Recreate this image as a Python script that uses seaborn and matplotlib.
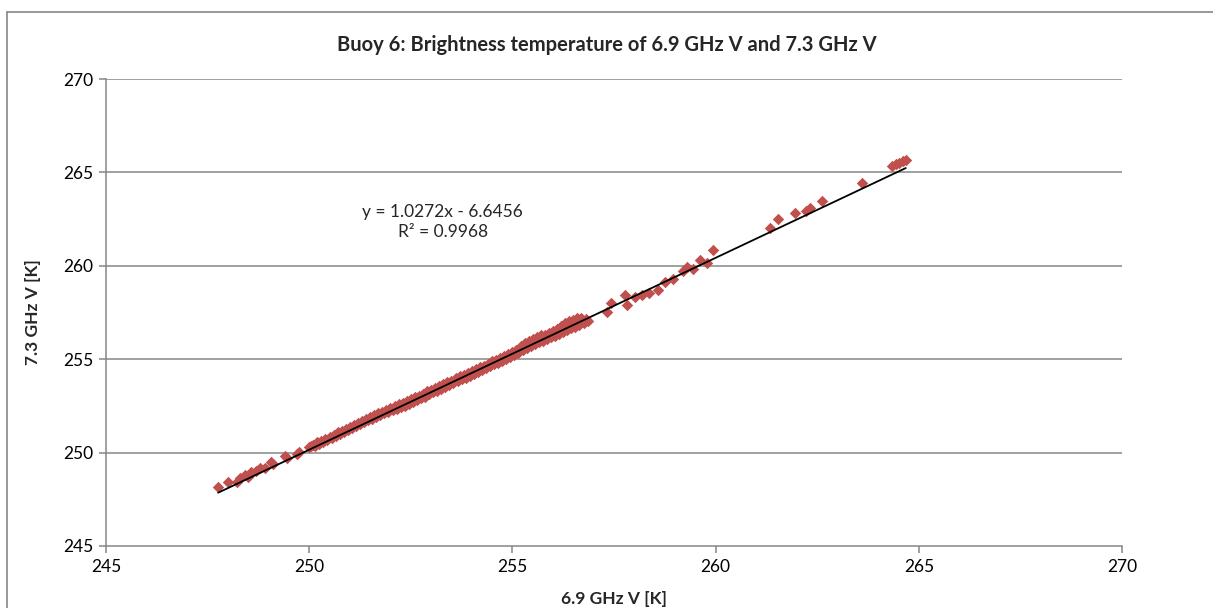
import matplotlib
matplotlib.use("Agg")
import matplotlib.pyplot as plt
import seaborn as sns
import pandas as pd
from matplotlib.lines import Line2D

# ---- data ----
x_low = [247.76, 248.00, 248.22, 248.30, 248.42, 248.50, 248.58, 248.70, 248.80, 248.92,
         249.05, 249.12, 249.40, 249.45, 249.75, 249.70]
y_low = [248.15, 248.45, 248.40, 248.62, 248.78, 248.70, 248.95, 249.02, 249.20, 249.15,
         249.48, 249.38, 249.82, 249.72, 250.05, 249.95]

x_band = [250.00, 250.05, 250.10, 250.15, 250.20, 250.25, 250.30, 250.35, 250.40, 250.45,
          250.50, 250.55, 250.60, 250.65, 250.70, 250.75, 250.80, 250.85, 250.90, 250.95,
          251.00, 251.05, 251.10, 251.15, 251.20, 251.25, 251.30, 251.35, 251.40, 251.45,
          251.50, 251.55, 251.60, 251.65, 251.70, 251.75, 251.80, 251.85, 251.90, 251.95,
          252.00, 252.05, 252.10, 252.15, 252.20, 252.25, 252.30, 252.35, 252.40, 252.45,
          252.50, 252.55, 252.60, 252.65, 252.70, 252.75, 252.80, 252.85, 252.90, 252.95,
          253.00, 253.05, 253.10, 253.15, 253.20, 253.25, 253.30, 253.35, 253.40, 253.45,
          253.50, 253.55, 253.60, 253.65, 253.70, 253.75, 253.80, 253.85, 253.90, 253.95,
          254.00, 254.05, 254.10, 254.15, 254.20, 254.25, 254.30, 254.35, 254.40, 254.45,
          254.50, 254.55, 254.60, 254.65, 254.70, 254.75, 254.80, 254.85, 254.90, 254.95,
          255.00, 255.05, 255.10, 255.15, 255.20, 255.25, 255.30, 255.35, 255.40, 255.45,
          255.50, 255.55, 255.60, 255.65, 255.70, 255.75, 255.80, 255.85, 255.90, 255.95,
          256.00, 256.05, 256.10, 256.15, 256.20, 256.25, 256.30, 256.35, 256.40, 256.45,
          256.50, 256.55, 256.60, 256.65, 256.70, 256.75, 256.80, 256.85]
y_band = [250.30, 250.33, 250.42, 250.38, 250.55, 250.45, 250.62, 250.58, 250.75, 250.68,
          250.85, 250.80, 250.95, 250.88, 251.08, 250.98, 251.15, 251.10, 251.28, 251.20,
          251.38, 251.30, 251.48, 251.42, 251.60, 251.52, 251.68, 251.62, 251.80, 251.72,
          251.90, 251.82, 252.00, 251.92, 252.10, 252.02, 252.18, 252.10, 252.30, 252.18,
          252.38, 252.28, 252.50, 252.35, 252.58, 252.45, 252.65, 252.52, 252.78, 252.62,
          252.85, 252.70, 252.98, 252.80, 253.05, 252.92, 253.15, 253.00, 253.28, 253.12,
          253.35, 253.22, 253.45, 253.30, 253.58, 253.42, 253.65, 253.50, 253.78, 253.62,
          253.85, 253.72, 253.98, 253.82, 254.08, 253.92, 254.15, 254.02, 254.28, 254.12,
          254.35, 254.22, 254.45, 254.32, 254.58, 254.42, 254.65, 254.52, 254.75, 254.62,
          254.88, 254.72, 254.98, 254.82, 255.08, 254.92, 255.18, 255.02, 255.28, 255.12,
          255.38, 255.22, 255.50, 255.35, 255.72, 255.48, 255.85, 255.58, 255.98, 255.70,
          256.08, 255.80, 256.18, 255.90, 256.28, 256.00, 256.32, 256.10, 256.42, 256.18,
          256.50, 256.25, 256.62, 256.35, 256.78, 256.45, 256.95, 256.55, 257.05, 256.65,
          257.12, 256.75, 257.18, 256.85, 257.20, 256.95, 257.15, 257.05]

x_high = [257.32, 257.42, 257.77, 257.81, 258.01, 258.20, 258.35, 258.58, 258.75, 258.95,
          259.20, 259.30, 259.45, 259.62, 259.78, 259.94, 261.34, 261.54, 261.95, 262.22,
          262.32, 262.63, 263.60, 264.35, 264.45, 264.52, 264.60, 264.68]
y_high = [257.54, 258.00, 258.44, 257.90, 258.35, 258.45, 258.55, 258.70, 259.15, 259.30,
          259.70, 259.95, 259.85, 260.31, 260.13, 260.85, 262.00, 262.49, 262.84, 262.95,
          263.08, 263.47, 264.45, 265.35, 265.45, 265.52, 265.60, 265.68]

slope, intercept = 1.0272, -6.6456
x_ticks = [245, 250, 255, 260, 265, 270]
y_ticks = [245, 250, 255, 260, 265, 270]

title = "Buoy 6: Brightness temperature of 6.9 GHz V and 7.3 GHz V"
x_label = "6.9 GHz V [K]"
y_label = "7.3 GHz V [K]"
eq_text = "y = 1.0272x - 6.6456"
r2_text = "R² = 0.9968"

df = pd.DataFrame({"x": x_low + x_band + x_high, "y": y_low + y_band + y_high})

# ---- style ----
sns.set_theme(style="white")
plt.rcParams["font.family"] = ["Lato", "DejaVu Sans"]

W, H = 1213, 608
fig = plt.figure(figsize=(W / 100, H / 100), dpi=100)
ax = fig.add_axes([106 / W, 1 - 546 / H, (1122 - 106) / W, (546 - 79) / H])

grid_c = "#868686"
for yv in y_ticks[1:]:
    ax.axhline(yv, color=grid_c, lw=1.1, zorder=0)

sns.scatterplot(data=df, x="x", y="y", ax=ax, marker="D", s=34, color="#C0504D",
                linewidth=0, zorder=3, legend=False)

xmin, xmax = min(df["x"]), max(df["x"])
ax.plot([xmin, xmax], [slope * xmin + intercept, slope * xmax + intercept],
        color="black", lw=1.3, zorder=4)

ax.set_xlim(x_ticks[0], x_ticks[-1])
ax.set_ylim(y_ticks[0], y_ticks[-1])
ax.set_xticks(x_ticks)
ax.set_yticks(y_ticks)
ax.tick_params(axis="both", which="major", direction="out", length=5, width=1.1,
               color=grid_c, labelsize=12.5, labelcolor="black", pad=4, bottom=True, left=True)
for s in ["top", "right"]:
    ax.spines[s].set_visible(False)
for s in ["left", "bottom"]:
    ax.spines[s].set_color(grid_c)
    ax.spines[s].set_linewidth(1.1)

ax.set_xlabel(x_label, fontsize=12.5, fontweight="bold", labelpad=12)
ax.set_ylabel(y_label, fontsize=12.5, fontweight="bold", labelpad=16)

fig.text(0.365, 1 - 212 / H, eq_text, ha="center", va="center", fontsize=12.5)
fig.text(0.365, 1 - 232 / H, r2_text, ha="center", va="center", fontsize=12.5)

fig.text(0.5, 1 - 45 / H, title, ha="center", va="center", fontsize=14.5, fontweight="bold")

# chart-area border
fig.add_artist(Line2D([7 / W, 1], [1 - 12 / H, 1 - 12 / H], color=grid_c, lw=1.2,
                      transform=fig.transFigure))
fig.add_artist(Line2D([7 / W, 7 / W], [0, 1 - 12 / H], color=grid_c, lw=1.2,
                      transform=fig.transFigure))

fig.savefig("out.png", dpi=100)
